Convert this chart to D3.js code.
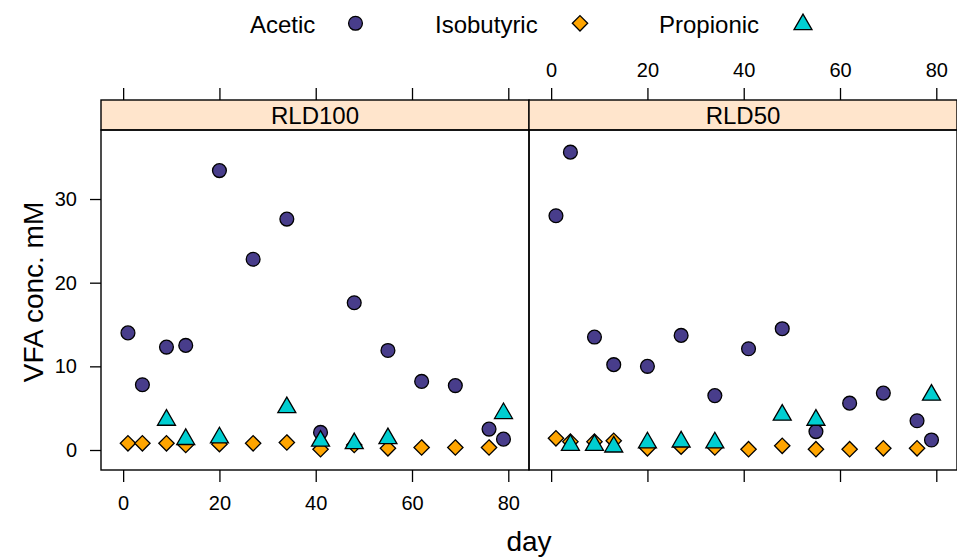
<!DOCTYPE html>
<html>
<head>
<meta charset="utf-8">
<script src="https://cdn.jsdelivr.net/npm/d3@7"></script>
<style>
  body { margin: 0; background: #fff; }
  text { font-family: "Liberation Sans", Arial, sans-serif; fill: #000; }
</style>
</head>
<body>
<div id="chart"></div>
<script>
// jours d'échantillonnage
const days = [1, 4, 9, 13, 20, 27, 34, 41, 48, 55, 62, 69, 76, 79];
const panels = ["RLD100", "RLD50"];
const series = ["Acetic", "Isobutyric", "Propionic"];

// valeurs (null = absent)
const acetic100     = [14.0, 7.8, 12.3, 12.5, 33.4, 22.8, 27.6, 2.1, 17.6, 11.9, 8.2, 7.7, 2.5, 1.3];
const isobutyric100 = [0.8, 0.8, 0.8, 0.6, 0.7, 0.8, 0.9, 0.1, 0.6, 0.2, 0.3, 0.3, 0.3, null];
const propionic100  = [null, null, 3.7, 1.4, 1.6, null, 5.2, 1.2, 0.9, 1.5, null, null, null, 4.5];

const acetic50      = [28.0, 35.6, 13.5, 10.2, 10.0, 13.7, 6.5, 12.1, 14.5, 2.2, 5.6, 6.8, 3.5, 1.2];
const isobutyric50  = [1.4, 1.0, 1.0, 1.1, 0.2, 0.4, 0.3, 0.1, 0.5, 0.1, 0.1, 0.2, 0.2, null];
const propionic50   = [null, 0.7, 0.7, 0.5, 1.0, 1.1, 1.0, null, 4.3, 3.7, null, null, null, 6.7];

const xTicks = [0, 20, 40, 60, 80];
const yTicks = [0, 10, 20, 30];

const panelData = {
    RLD100: [acetic100, isobutyric100, propionic100],
    RLD50: [acetic50, isobutyric50, propionic50]
};

const width = 957, height = 558;
const colors = ["#483D8B", "#FFA500", "#00CED1"];
const symbols = [d3.symbolCircle, d3.symbolDiamond2, d3.symbolTriangle];
const sizes = [150, 150, 140];

const svg = d3.select("#chart").append("svg")
    .attr("width", width)
    .attr("height", height);

const plotTop = 130, plotBottom = 470, stripTop = 100;
const panelW = 428, left0 = 101;

const y = d3.scaleLinear().domain([-2.39, 38.25]).range([plotBottom, plotTop]);

function symPath(i) {
    let s = d3.symbol().type(symbols[i]).size(sizes[i]);
    return s();
}

function styleAxis(a) {
    a.select(".domain").remove();
    a.selectAll("line").attr("stroke", "#000").attr("stroke-width", 1.3);
    a.selectAll("text").style("font-size", "20px").attr("fill", "#000")
        .attr("font-family", "Liberation Sans, Arial, sans-serif");
}

panels.forEach((p, pi) => {
    const x0 = left0 + pi * panelW;
    const x = d3.scaleLinear().domain([-4.6, 84.3]).range([x0, x0 + panelW]);
    const g = svg.append("g");

    // bande du titre
    g.append("rect")
        .attr("x", x0).attr("y", stripTop)
        .attr("width", panelW).attr("height", plotTop - stripTop)
        .attr("fill", "#FFE5CC").attr("stroke", "#000").attr("stroke-width", 1.4);
    g.append("text")
        .attr("x", x0 + panelW / 2).attr("y", 124)
        .attr("text-anchor", "middle").style("font-size", "24px")
        .text(p);

    // points
    const vals = panelData[p];
    vals.forEach((arr, si) => {
        g.append("g").selectAll("path")
            .data(days.map((d, i) => ({ day: d, v: arr[i] })).filter(d => d.v !== null))
            .join("path")
            .attr("d", symPath(si))
            .attr("transform", d => si === 2
                ? `translate(${x(d.day)},${y(d.v) + 1})`
                : `translate(${x(d.day)},${y(d.v)})`)
            .attr("fill", colors[si])
            .attr("stroke", "#000")
            .attr("stroke-width", 1.3);
    });

    // cadre
    g.append("rect")
        .attr("x", x0).attr("y", plotTop)
        .attr("width", panelW).attr("height", plotBottom - plotTop)
        .attr("fill", "none").attr("stroke", "#000").attr("stroke-width", 1.4);

    // axes : en bas pour le panneau 1, en haut pour le panneau 2
    const bAxis = d3.axisBottom(x).tickValues(xTicks).tickSize(12).tickPadding(14)
        .tickFormat(pi === 0 ? d3.format("d") : () => "");
    const tAxis = d3.axisTop(x).tickValues(xTicks).tickSize(12).tickPadding(11)
        .tickFormat(pi === 1 ? d3.format("d") : () => "");

    styleAxis(svg.append("g").attr("transform", `translate(0,${plotBottom})`).call(bAxis));
    styleAxis(svg.append("g").attr("transform", `translate(0,${stripTop})`).call(tAxis));
});

// axe y
const yAxis = svg.append("g").attr("transform", `translate(${left0},0)`)
    .call(d3.axisLeft(y).tickValues(yTicks).tickSize(11).tickPadding(13));
styleAxis(yAxis);

// titres des axes
svg.append("text")
    .attr("x", left0 + panelW).attr("y", 551)
    .attr("text-anchor", "middle").style("font-size", "28px")
    .text("day");
svg.append("text")
    .attr("transform", "translate(43,292) rotate(-90)")
    .attr("text-anchor", "middle").style("font-size", "28px")
    .text("VFA conc. mM");

// légende
const legendX = [[250, 355.5], [435, 580], [659, 803]];
const legend = svg.append("g");
series.forEach((s, i) => {
    legend.append("text")
        .attr("x", legendX[i][0]).attr("y", 32.5)
        .style("font-size", "24px")
        .text(s);
    legend.append("path")
        .attr("d", symPath(i))
        .attr("transform", `translate(${legendX[i][1]},${i === 2 ? 24.5 : 23.3})`)
        .attr("fill", colors[i])
        .attr("stroke", "#000")
        .attr("stroke-width", 1.3);
});
</script>
</body>
</html>
